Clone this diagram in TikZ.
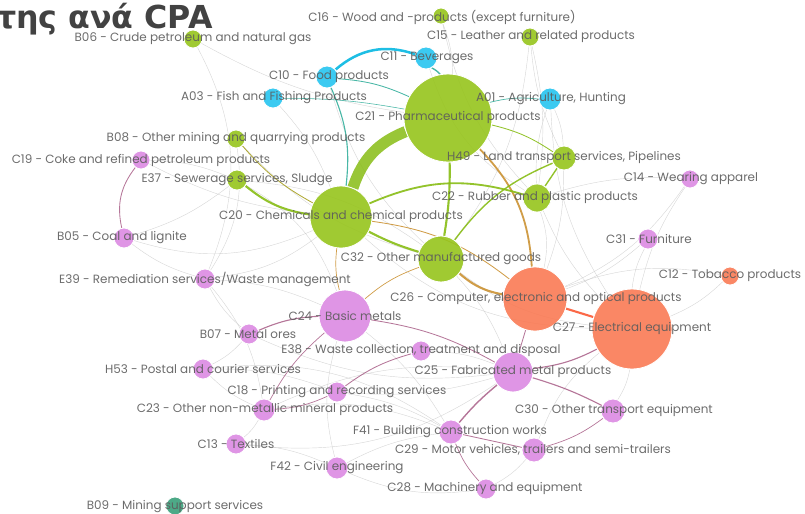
\documentclass[tikz,border=0pt]{standalone}
\usepackage{fontspec}
\setmainfont{Poppins}
\newfontfamily\titlefont{DejaVu Sans}
\usetikzlibrary{backgrounds}
\definecolor{sectgreen}{RGB}{150,196,28}
\definecolor{sectblue}{RGB}{38,196,240}
\definecolor{sectcoral}{RGB}{250,122,84}
\definecolor{sectpink}{RGB}{220,138,226}
\definecolor{sectteal}{RGB}{58,160,122}
\definecolor{edgegreen}{RGB}{135,188,20}
\definecolor{edgeteal}{RGB}{40,170,150}
\definecolor{edgecyan}{RGB}{30,190,228}
\definecolor{edgebrown}{RGB}{200,140,40}
\definecolor{edgemaroon}{RGB}{150,60,110}
\definecolor{labelgray}{RGB}{92,92,92}

\begin{document}
\begin{tikzpicture}[x=0.025cm,y=-0.025cm]
\tikzstyle{Vertex}=[shape = circle,
                    inner sep = 0pt,
                    draw = white,
                    line width = 0.6pt,
                    fill opacity = 0.9]
\tikzstyle{GreenVertex}=[Vertex, fill = sectgreen]
\tikzstyle{BlueVertex}=[Vertex, fill = sectblue]
\tikzstyle{CoralVertex}=[Vertex, fill = sectcoral]
\tikzstyle{PinkVertex}=[Vertex, fill = sectpink]
\tikzstyle{TealVertex}=[Vertex, fill = sectteal]
\tikzstyle{LabelStyle}=[font = \fontsize{8.5}{9}\selectfont,
                        text = labelgray,
                        text opacity = 0.9,
                        inner sep = 0pt]
\tikzstyle{EdgeLight}=[draw = gray!45, line width = 0.3pt, opacity = 0.7]
\tikzstyle{EdgeGreen}=[draw = edgegreen, opacity = 0.9]
\tikzstyle{EdgeTeal}=[draw = edgeteal, opacity = 0.85]
\tikzstyle{EdgeBrown}=[draw = edgebrown, opacity = 0.85]
\tikzstyle{EdgeMaroon}=[draw = edgemaroon, opacity = 0.7]
\useasboundingbox (0,0) rectangle (805,514);
\clip (0,0) rectangle (805,514);
\node[anchor = base east, font = \titlefont\bfseries\fontsize{22.5}{24}\selectfont,
      text = black!74, inner sep = 0pt] (title) at (213,28) {της ανά CPA};
\node[GreenVertex, minimum size = 0.4cm] (c16) at (441,16) {};
\node[GreenVertex, minimum size = 0.45cm] (c15) at (530,37) {};
\node[GreenVertex, minimum size = 0.45cm] (b06) at (193,39) {};
\node[BlueVertex, minimum size = 0.55cm] (c11) at (426,58) {};
\node[BlueVertex, minimum size = 0.55cm] (c10) at (327,77) {};
\node[BlueVertex, minimum size = 0.5cm] (a03) at (273,98) {};
\node[BlueVertex, minimum size = 0.55cm] (a01) at (550,99) {};
\node[GreenVertex, minimum size = 2.2cm] (c21) at (448,118) {};
\node[GreenVertex, minimum size = 0.45cm] (b08) at (236,139) {};
\node[PinkVertex, minimum size = 0.45cm] (c19) at (141,160) {};
\node[GreenVertex, minimum size = 0.6cm] (h49) at (564,158) {};
\node[GreenVertex, minimum size = 0.5cm] (e37) at (237,180) {};
\node[PinkVertex, minimum size = 0.45cm] (c14) at (690,179) {};
\node[GreenVertex, minimum size = 0.7cm] (c22) at (537,198) {};
\node[GreenVertex, minimum size = 1.55cm] (c20) at (341,217) {};
\node[PinkVertex, minimum size = 0.5cm] (b05) at (124,238) {};
\node[PinkVertex, minimum size = 0.5cm] (c31) at (648,239) {};
\node[GreenVertex, minimum size = 1.15cm] (c32) at (441,259) {};
\node[CoralVertex, minimum size = 0.45cm] (c12) at (730,276) {};
\node[PinkVertex, minimum size = 0.5cm] (e39) at (205,279) {};
\node[CoralVertex, minimum size = 1.6cm] (c26) at (535,299) {};
\node[PinkVertex, minimum size = 1.3cm] (c24) at (345,316) {};
\node[CoralVertex, minimum size = 2.0cm] (c27) at (632,329) {};
\node[PinkVertex, minimum size = 0.5cm] (b07) at (249,334) {};
\node[PinkVertex, minimum size = 0.5cm] (e38) at (421,351) {};
\node[PinkVertex, minimum size = 0.5cm] (h53) at (203,369) {};
\node[PinkVertex, minimum size = 1.0cm] (c25) at (513,372) {};
\node[PinkVertex, minimum size = 0.5cm] (c18) at (337,392) {};
\node[PinkVertex, minimum size = 0.55cm] (c23) at (264,410) {};
\node[PinkVertex, minimum size = 0.6cm] (c30) at (613,411) {};
\node[PinkVertex, minimum size = 0.6cm] (f41) at (451,432) {};
\node[PinkVertex, minimum size = 0.5cm] (c13) at (236,444) {};
\node[PinkVertex, minimum size = 0.6cm] (c29) at (534,450) {};
\node[PinkVertex, minimum size = 0.55cm] (f42) at (337,468) {};
\node[PinkVertex, minimum size = 0.5cm] (c28) at (486,489) {};
\node[TealVertex, minimum size = 0.45cm] (b09) at (175,506) {};
\begin{pgfonlayer}{background}
\foreach \a/\b/\t in {b06/c21/-10, b06/e39/25, c16/c21/10, c16/c22/-15, c15/c22/10,
  c15/h49/-10, c15/c32/15, a01/h49/10, a01/c22/-10, a01/c27/-15, c14/c26/15,
  c14/c22/-10, c14/c27/-10, c31/c26/10, c31/c27/-10, c12/c27/10, c12/c26/-15,
  e39/c24/10, e39/c20/-15, e39/b05/10, e39/b07/-10, e39/c23/15, b05/c20/-20,
  b05/e37/-10, c19/e37/10, c19/c20/-10, e37/c32/15, b07/h53/10, h53/c23/-10,
  h53/c18/10, c13/c23/-10, c13/f42/10, f42/c28/-15, f42/f41/10, f42/c24/15,
  c18/c25/-10, c18/f41/10, e38/c25/10, c28/c29/-10, c29/c27/15, c30/c27/-10,
  f41/c24/-10, c23/f41/15, b08/c32/-15, a03/c20/10, c10/c32/-15, c11/c22/-20,
  c22/c27/-10, h49/c26/10, c22/c26/15, c32/c27/-15, c32/c25/10, c20/c27/-20,
  b08/e39/20, c13/c25/-20, c23/c25/15, e37/c24/20, b07/c25/-15, h53/f41/20}
  \draw[EdgeLight] (\a) to[bend left = \t] (\b);
\draw[EdgeGreen, line width = 8pt, opacity = 0.85] (c20) to[bend left = 25] (c21);
\draw[draw = edgecyan, line width = 1.8pt] (c10) to[bend left = 30] (c11);
\draw[EdgeTeal, line width = 1pt] (c11) to[bend left = 10] (c21);
\draw[EdgeTeal, line width = 0.8pt] (c10) to[bend left = 15] (c20);
\draw[EdgeTeal, line width = 0.6pt] (c10) to[bend left = 10] (c21);
\draw[EdgeTeal, line width = 0.4pt] (a03) to[bend left = 5] (c21);
\draw[EdgeTeal, line width = 0.5pt] (a01) to[bend right = 10] (c21);
\draw[EdgeBrown, line width = 1.3pt] (c21) to[bend left = 20] (c26);
\draw[EdgeGreen, line width = 1.3pt] (c20) to[bend left = 20] (c22);
\draw[EdgeGreen, line width = 1.5pt] (e37) to[bend right = 15] (c20);
\draw[draw = olive!70, line width = 0.6pt] (b08) to[bend right = 10] (c20);
\draw[EdgeGreen, line width = 1.5pt] (c21) to[bend left = 5] (c32);
\draw[EdgeGreen, line width = 1.5pt] (c20) to[bend right = 5] (c32);
\draw[EdgeGreen, line width = 1pt] (h49) to[bend right = 15] (c32);
\draw[EdgeGreen, line width = 1pt] (h49) to (c22);
\draw[EdgeGreen, line width = 0.6pt] (c21) to[bend left = 10] (h49);
\draw[EdgeBrown, line width = 1.5pt] (c32) to[bend right = 15] (c26);
\draw[EdgeBrown, line width = 0.6pt] (c20) to[bend left = 15] (c26);
\draw[draw = sectcoral!85!red, line width = 1.5pt] (c26) to (c27);
\draw[EdgeMaroon, line width = 0.6pt] (c19) to[bend right = 25] (b05);
\draw[EdgeMaroon, line width = 0.8pt] (c24) to[bend right = 10] (b07);
\draw[EdgeMaroon, line width = 0.6pt] (c24) to[bend left = 10] (c25);
\draw[EdgeMaroon, line width = 0.8pt] (c25) to[bend left = 5] (c30);
\draw[EdgeMaroon, line width = 1pt] (c25) to[bend right = 5] (f41);
\draw[EdgeMaroon, line width = 0.6pt] (e38) to[bend right = 10] (c18);
\draw[EdgeMaroon, line width = 0.5pt] (c23) to[bend left = 10] (c24);
\draw[EdgeMaroon, line width = 0.8pt] (c27) to[bend left = 10] (c25);
\draw[EdgeMaroon, line width = 0.6pt] (c26) to (c25);
\draw[EdgeMaroon, line width = 0.5pt] (c29) to[bend right = 10] (c30);
\draw[EdgeMaroon, line width = 0.6pt] (f41) to (c29);
\draw[EdgeMaroon, line width = 0.5pt] (c28) to[bend left = 10] (f41);
\draw[EdgeMaroon, line width = 0.5pt] (c18) to[bend left = 10] (c23);
\draw[EdgeBrown, line width = 0.5pt] (c20) to[bend right = 10] (c24);
\draw[EdgeBrown, line width = 0.5pt] (c32) to[bend right = 10] (c24);
\end{pgfonlayer}
\node[LabelStyle] (c16l) at (442,17) {C16 - Wood and -products (except furniture)};
\node[LabelStyle] (c15l) at (531,37) {C15 - Leather and related products};
\node[LabelStyle] (b06l) at (193,39) {B06 - Crude petroleum and natural gas};
\node[LabelStyle] (c11l) at (427,58) {C11 - Beverages};
\node[LabelStyle] (c10l) at (329,77) {C10 - Food products};
\node[LabelStyle] (a03l) at (274,98) {A03 - Fish and Fishing Products};
\node[LabelStyle] (a01l) at (551,99) {A01 - Agriculture, Hunting};
\node[LabelStyle] (c21l) at (448,118) {C21 - Pharmaceutical products};
\node[LabelStyle] (b08l) at (236,139) {B08 - Other mining and quarrying products};
\node[LabelStyle] (c19l) at (141,160) {C19 - Coke and refined petroleum products};
\node[LabelStyle] (h49l) at (564,158) {H49 - Land transport services, Pipelines};
\node[LabelStyle] (e37l) at (237,180) {E37 - Sewerage services, Sludge};
\node[LabelStyle] (c14l) at (691,179) {C14 - Wearing apparel};
\node[LabelStyle] (c22l) at (535,198) {C22 - Rubber and plastic products};
\node[LabelStyle] (c20l) at (341,217) {C20 - Chemicals and chemical products};
\node[LabelStyle] (b05l) at (122,238) {B05 - Coal and lignite};
\node[LabelStyle] (c31l) at (649,239) {C31 - Furniture};
\node[LabelStyle] (c32l) at (441,259) {C32 - Other manufactured goods};
\node[LabelStyle] (c12l) at (730,276) {C12 - Tobacco products};
\node[LabelStyle] (e39l) at (205,279) {E39 - Remediation services/Waste management};
\node[LabelStyle] (c26l) at (536,299) {C26 - Computer, electronic and optical products};
\node[LabelStyle] (c24l) at (345,316) {C24 - Basic metals};
\node[LabelStyle] (c27l) at (632,329) {C27 - Electrical equipment};
\node[LabelStyle] (b07l) at (248,334) {B07 - Metal ores};
\node[LabelStyle] (e38l) at (421,351) {E38 - Waste collection, treatment and disposal};
\node[LabelStyle] (h53l) at (203,369) {H53 - Postal and courier services};
\node[LabelStyle] (c25l) at (513,372) {C25 - Fabricated metal products};
\node[LabelStyle] (c18l) at (337,392) {C18 - Printing and recording services};
\node[LabelStyle] (c23l) at (265,410) {C23 - Other non-metallic mineral products};
\node[LabelStyle] (c30l) at (614,411) {C30 - Other transport equipment};
\node[LabelStyle] (f41l) at (450,432) {F41 - Building construction works};
\node[LabelStyle] (c13l) at (236,444) {C13 - Textiles};
\node[LabelStyle] (c29l) at (533,450) {C29 - Motor vehicles, trailers and semi-trailers};
\node[LabelStyle] (f42l) at (337,468) {F42 - Civil engineering};
\node[LabelStyle] (c28l) at (485,489) {C28 - Machinery and equipment};
\node[LabelStyle] (b09l) at (175,507) {B09 - Mining support services};
\end{tikzpicture}
\end{document}
